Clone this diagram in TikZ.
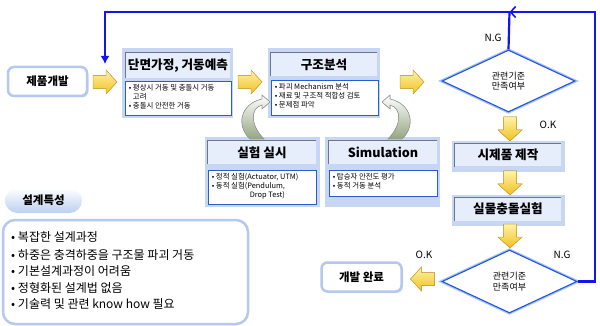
\documentclass[tikz,border=0pt]{standalone}
\usepackage{fontspec}
\setmainfont{Noto Sans CJK KR}
\usetikzlibrary{shapes.geometric,arrows.meta,shadows}
\definecolor{panelbg}{HTML}{C6D6F4}
\definecolor{titlefill}{HTML}{E6EDFB}
\definecolor{bevel}{HTML}{6E7585}
\definecolor{inborder}{HTML}{2A5CCB}
\definecolor{fbblue}{HTML}{1414F0}
\definecolor{dline}{HTML}{2255E0}
\definecolor{dglow}{HTML}{A8C4F0}
\definecolor{boxedge}{HTML}{B5C8EE}
\definecolor{ytop}{HTML}{FFF3A8}
\definecolor{ybot}{HTML}{F0C020}
\definecolor{yedge}{HTML}{D4A72C}
\definecolor{curvebase}{HTML}{95A682}
\definecolor{curveedge}{HTML}{9A9A9A}
\definecolor{pillblue}{HTML}{BCD0F0}
\begin{document}
\begin{tikzpicture}[x=1pt,y=-1pt,
  panel/.style={fill=panelbg, inner sep=0},
  titlebox/.style={fill=titlefill, inner sep=0, font=\bfseries\fontsize{12.6}{14}\selectfont},
  bevelline/.style={draw=bevel, line width=0.8pt},
  contentbox/.style={draw=inborder, line width=0.8pt, fill=white, inner sep=0},
  bullets/.style={inner sep=0, align=left, font=\fontsize{7.4}{8.6}\selectfont},
  roundbox/.style={draw=boxedge, line width=2.5pt, fill=white, rounded corners=6pt, inner sep=0,
    font=\bfseries\fontsize{11.5}{13}\selectfont,
    drop shadow={shadow xshift=1.5pt, shadow yshift=-1.5pt, fill=gray!45}},
  decision/.style={diamond, draw=dline, line width=1.1pt, fill=white, inner sep=0,
    preaction={draw=dglow, line width=3.5pt}, align=center,
    font=\fontsize{9}{10.5}\selectfont},
  fb/.style={draw=fbblue, line width=2.2pt},
  lbl/.style={inner sep=0, font=\fontsize{10}{12}\selectfont},
  feat/.style={inner sep=0, anchor=west, font=\fontsize{12}{14}\selectfont},
  yarrow/.pic={
    \filldraw[draw=yedge, line width=0.5pt, top color=ytop, bottom color=ybot]
      (-12,-6.5) -- (1,-6.5) -- (1,-12) -- (12,0) -- (1,12) -- (1,6.5) -- (-12,6.5) -- cycle;
  },
  curvefill/.style={draw=curveedge, line width=0.6pt, top color=white, bottom color=curvebase}
]
\useasboundingbox (0,0) rectangle (600,326);

% feedback junction coordinates
\coordinate (j) at (509.5,12);
\coordinate (rtop) at (595,12);
\coordinate (fbend) at (105,64);

% start box
\node[roundbox, minimum width=79pt, minimum height=29pt] (start) at (47.5,81.5) {제품개발};

% panel 1
\node[panel, minimum width=111pt, minimum height=70pt] (p1) at (177.5,83) {};
\node[titlebox, minimum width=104pt, minimum height=25pt] (t1) at (178,65.5) {단면가정, 거동예측};
\draw[bevelline] (t1.south west) |- (t1.north east);
\node[contentbox, minimum width=106pt, minimum height=34pt] (c1) at (178,98) {};
\node[bullets, anchor=north west] (c1t) at ([xshift=4pt,yshift=-4pt]c1.north west)
  {• 평상시 거동 및 충돌시 거동\\\phantom{• }고려\\• 충돌시 안전한 거동};

% panel 2
\node[panel, minimum width=112pt, minimum height=70pt] (p2) at (324,83) {};
\node[titlebox, minimum width=106pt, minimum height=23pt] (t2) at (324,64.5) {구조분석};
\draw[bevelline] (t2.south west) |- (t2.north east);
\node[contentbox, minimum width=107pt, minimum height=35pt] (c2) at (324.5,97.5) {};
\node[bullets, anchor=north west] (c2t) at ([xshift=4pt,yshift=-4pt]c2.north west)
  {• 파괴 Mechanism 분석\\• 재료 및 구조적 적합성 검토\\• 문제점 파악};

% panel 3
\node[panel, minimum width=115pt, minimum height=70pt] (p3) at (262.5,172) {};
\node[titlebox, minimum width=108pt, minimum height=23pt] (t3) at (262,152.5) {실험 실시};
\draw[bevelline] (t3.south west) |- (t3.north east);
\node[contentbox, minimum width=108pt, minimum height=34pt] (c3) at (262,187) {};
\node[bullets, anchor=north west] (c3t) at ([xshift=4pt,yshift=-4pt]c3.north west)
  {• 정적 실험(Actuator, UTM)\\• 동적 실험(Pendulum,\\\hspace*{38pt}Drop Test)};

% panel 4
\node[panel, minimum width=115pt, minimum height=70pt] (p4) at (382.5,172) {};
\node[titlebox, minimum width=108pt, minimum height=23pt] (t4) at (383,152.5) {Simulation};
\draw[bevelline] (t4.south west) |- (t4.north east);
\node[contentbox, minimum width=108pt, minimum height=26pt] (c4) at (383,183) {};
\node[bullets, anchor=north west] (c4t) at ([xshift=4pt,yshift=-4pt]c4.north west)
  {• 탑승자 안전도 평가\\• 동적 거동 분석};

% panel 5, 6
\node[panel, minimum width=113pt, minimum height=31pt] (p5) at (508.5,156.5) {};
\node[titlebox, minimum width=106pt, minimum height=23pt] (t5) at (508,155) {시제품 제작};
\draw[bevelline] (t5.south west) |- (t5.north east);
\node[panel, minimum width=113pt, minimum height=31pt] (p6) at (508.5,210.5) {};
\node[titlebox, minimum width=106pt, minimum height=23pt] (t6) at (508,209) {실물충돌실험};
\draw[bevelline] (t6.south west) |- (t6.north east);

% decisions
\node[decision, minimum width=133pt, minimum height=62pt] (d1) at (508.5,81) {관련기준\\만족여부};
\node[decision, minimum width=135pt, minimum height=63pt] (d2) at (509.5,281.5) {관련기준\\만족여부};

% end box
\node[roundbox, minimum width=80pt, minimum height=29pt] (done) at (361.5,277) {개발 완료};

% yellow block arrows
\path (105,82) pic {yarrow};
\path (250,82) pic {yarrow};
\path (412,82) pic {yarrow};
\path (510,129) pic[rotate=-90] {yarrow};
\path (510,183) pic[rotate=-90] {yarrow};
\path (510,236) pic[rotate=-90] {yarrow};
\path (422.5,279) pic[rotate=180] {yarrow};

% labels
\node[lbl] (ng1) at (493,38) {N.G};
\node[lbl] (ok1) at (548,125) {O.K};
\node[lbl] (ok2) at (424,255) {O.K};
\node[lbl] (ng2) at (562,255) {N.G};

% feedback lines
\draw[fb] (d1.north) -- (j);
\draw[fb, -{Latex[length=8pt,width=9pt]}] (j) -| (fbend);
\draw[fb, -{Straight Barb[length=5pt,width=11pt,line width=1.6pt]}] (d2.east) -| (rtop) -- (j);

% curved hollow arrows
\filldraw[curvefill] (250,139) .. controls (236,126) and (240,104) .. (262,99) -- (262,95) -- (270,102)
  -- (262,109) -- (262,105) .. controls (250,108) and (250,125) .. (264,139) -- cycle;
\filldraw[curvefill] (402,139) .. controls (416,126) and (412,104) .. (390,99) -- (390,95) -- (382,102)
  -- (390,109) -- (390,105) .. controls (402,108) and (402,125) .. (388,139) -- cycle;

% design features
\node[inner sep=0, rounded corners=12.5pt, top color=white, bottom color=pillblue,
  minimum width=77pt, minimum height=25pt, font=\bfseries\fontsize{11.5}{13}\selectfont] (pill) at (43.5,200.5) {설계특성};
\node[draw=boxedge, line width=2.5pt, fill=white, rounded corners=12pt, inner sep=0,
  minimum width=245pt, minimum height=104pt] (feat) at (125.5,272) {};
\node[feat] (f1) at (11,237) {•~복잡한 설계과정};
\node[feat] (f2) at (11,254.5) {•~하중은 충격하중을 구조물 파괴 거동};
\node[feat] (f3) at (11,271) {•~기본설계과정이 어려움};
\node[feat] (f4) at (11,287.5) {•~정형화된 설계법 없음};
\node[feat] (f5) at (11,304) {•~기술력 및 관련 know how 필요};
\end{tikzpicture}
\end{document}
